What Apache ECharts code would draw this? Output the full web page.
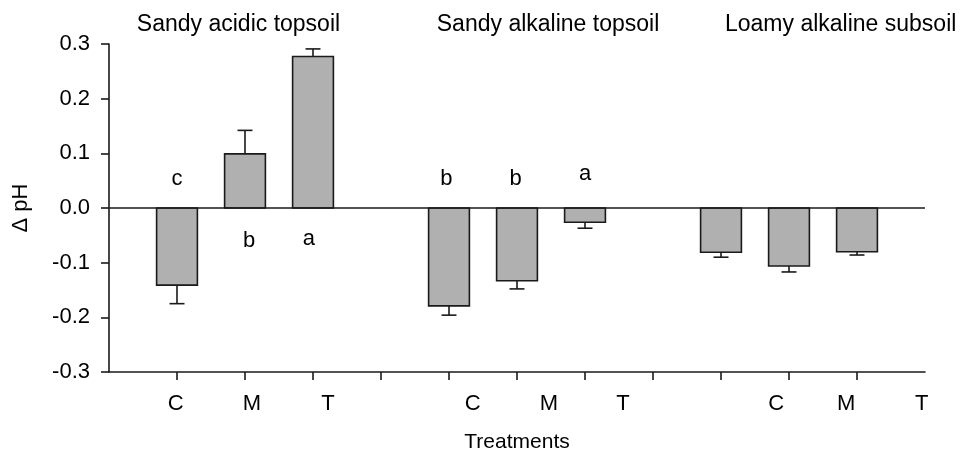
<!DOCTYPE html>
<html>
<head>
<meta charset="utf-8">
<script src="https://cdn.jsdelivr.net/npm/echarts@6/dist/echarts.min.js"></script>
<style>
  html, body { margin: 0; padding: 0; background: #ffffff; }
  #chart { width: 960px; height: 456px; }
</style>
</head>
<body>
<div id="chart"></div>
<script>
// ---- data ----
const groups = ['Sandy acidic topsoil', 'Sandy alkaline topsoil', 'Loamy alkaline subsoil'];
const treatments = ['C', 'M', 'T'];
const barX = [1, 2, 3, 5, 6, 7, 9, 10, 11];
const meanDeltaPH = [-0.141, 0.099, 0.277, -0.179, -0.133, -0.026, -0.081, -0.106, -0.080];
const errorDeltaPH = [0.034, 0.043, 0.014, 0.017, 0.015, 0.011, 0.009, 0.011, 0.006];
const letterText = ['c', 'b', 'a', 'b', 'b', 'a'];
const letterX = [1, 2.06, 2.94, 4.96, 5.98, 7.0];
const letterY = [0.053, -0.061, -0.057, 0.054, 0.054, 0.063];
const yTicks = [-0.3, -0.2, -0.1, 0.0, 0.1, 0.2, 0.3];

// ---- layout constants ----
const xTickValues = [1, 2, 3, 4, 5, 6, 7, 8, 9, 10, 11];
const treatmentLabelX = [0.98, 2.10, 3.22, 5.35, 6.47, 7.56, 9.81, 10.84, 11.95];
const groupTitleX = [1.904, 6.456, 10.76];
const FONT = '"Liberation Sans", Arial, sans-serif';
const TXT = '#000000';

const barData = barX.map((x, i) => [x, meanDeltaPH[i], errorDeltaPH[i]]);
const letterData = letterX.map((x, i) => [x, letterY[i], letterText[i]]);

function nearestIndex(arr, v) {
  let best = 0;
  for (let i = 1; i < arr.length; i++) if (Math.abs(arr[i] - v) < Math.abs(arr[best] - v)) best = i;
  return best;
}

const chart = echarts.init(document.getElementById('chart'), null, { renderer: 'canvas' });
chart.setOption({
  backgroundColor: '#ffffff',
  animation: false,
  grid: { left: 109, right: 35, top: 44, bottom: 84, outerBoundsMode: 'none' },
  xAxis: [
    {
      type: 'value', min: 0, max: 12, position: 'bottom',
      name: 'Treatments', nameLocation: 'middle', nameGap: 60,
      nameTextStyle: { fontFamily: FONT, fontSize: 21, color: TXT },
      axisLine: { show: true, onZero: false, lineStyle: { color: '#1a1a1a', width: 1.6 } },
      axisTick: { show: true, customValues: xTickValues, length: 8, inside: false, lineStyle: { color: '#1a1a1a', width: 1.6 } },
      axisLabel: { show: false },
      splitLine: { show: false }
    },
    {
      type: 'value', min: 0, max: 12, position: 'bottom',
      axisLine: { show: false }, axisTick: { show: false }, splitLine: { show: false },
      axisLabel: {
        show: true, customValues: treatmentLabelX, margin: 21, hideOverlap: false,
        fontFamily: FONT, fontSize: 22, color: TXT,
        formatter: v => treatments[nearestIndex(treatmentLabelX, v) % 3]
      }
    },
    {
      type: 'value', min: 0, max: 12, position: 'top',
      axisLine: { show: false }, axisTick: { show: false }, splitLine: { show: false },
      axisLabel: {
        show: true, customValues: groupTitleX, margin: 8, hideOverlap: false,
        fontFamily: FONT, fontSize: 23, color: TXT,
        formatter: v => groups[nearestIndex(groupTitleX, v)]
      }
    }
  ],
  yAxis: {
    type: 'value', min: -0.3, max: 0.3, interval: 0.1,
    name: '\u0394 pH', nameLocation: 'middle', nameGap: 77, nameRotate: 90,
    nameTextStyle: { fontFamily: FONT, fontSize: 22, color: TXT },
    axisLine: { show: true, onZero: false, lineStyle: { color: '#1a1a1a', width: 1.6 } },
    axisTick: { show: true, length: 8, inside: false, lineStyle: { color: '#1a1a1a', width: 1.6 } },
    axisLabel: {
      margin: 19, fontFamily: FONT, fontSize: 22, color: TXT,
      formatter: v => (Math.abs(v) < 1e-9 ? 0 : v).toFixed(1)
    },
    splitLine: { show: false }
  },
  series: [
    {
      type: 'custom',
      xAxisIndex: 0,
      data: barData,
      renderItem: function (params, api) {
        const x = api.value(0), y = api.value(1), e = api.value(2);
        const half = 0.3, cap = 0.11;
        const a = api.coord([x - half, y]);
        const b = api.coord([x + half, 0]);
        const tip = y + (y >= 0 ? e : -e);
        const c0 = api.coord([x, y]);
        const c1 = api.coord([x, tip]);
        const k0 = api.coord([x - cap, tip]);
        const k1 = api.coord([x + cap, tip]);
        const lineStyle = { stroke: '#1a1a1a', lineWidth: 1.6 };
        return {
          type: 'group',
          children: [
            { type: 'line', shape: { x1: c0[0], y1: c0[1], x2: c1[0], y2: c1[1] }, style: lineStyle },
            { type: 'line', shape: { x1: k0[0], y1: k0[1], x2: k1[0], y2: k1[1] }, style: lineStyle },
            {
              type: 'rect',
              shape: { x: a[0], y: Math.min(a[1], b[1]), width: b[0] - a[0], height: Math.abs(a[1] - b[1]) },
              style: { fill: '#b0b0b0', stroke: '#1a1a1a', lineWidth: 1.6 }
            }
          ]
        };
      },
      markLine: {
        silent: true, symbol: 'none', label: { show: false },
        lineStyle: { color: '#1a1a1a', width: 1.6, type: 'solid' },
        data: [{ yAxis: 0 }]
      },
      z: 3
    },
    {
      type: 'scatter',
      xAxisIndex: 0,
      symbolSize: 0,
      itemStyle: { opacity: 1 },
      data: letterData,
      label: {
        show: true, position: 'inside',
        fontFamily: FONT, fontSize: 22, color: TXT, opacity: 1,
        formatter: p => p.data[2]
      },
      z: 4
    }
  ]
});
</script>
</body>
</html>
